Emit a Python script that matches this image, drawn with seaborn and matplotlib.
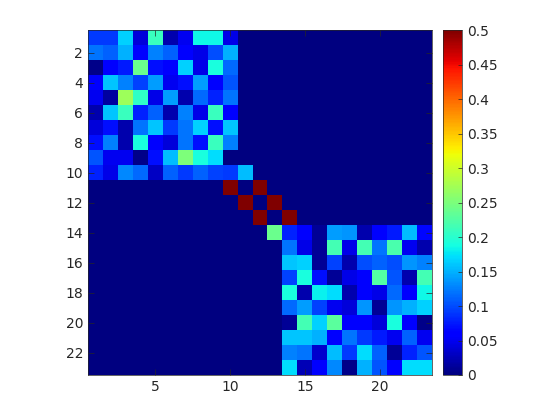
import matplotlib
matplotlib.use("Agg")
import matplotlib.pyplot as plt
import seaborn as sns
import numpy as np

# top-left block, rows 1-10 x cols 1-11
block_a = [
    [0.09, 0.09, 0.165, 0.04, 0.21, 0.02, 0.05, 0.185, 0.185, 0.045, 0.0],
    [0.12, 0.11, 0.15, 0.0625, 0.125, 0.11, 0.06, 0.045, 0.10, 0.15, 0.0],
    [0.005, 0.055, 0.075, 0.24, 0.07, 0.06, 0.165, 0.045, 0.19, 0.115, 0.0],
    [0.055, 0.16, 0.125, 0.095, 0.14, 0.05, 0.07, 0.14, 0.062, 0.105, 0.0],
    [0.05, 0.015, 0.27, 0.205, 0.045, 0.14, 0.02, 0.115, 0.08, 0.12, 0.0],
    [0.02, 0.16, 0.21, 0.08, 0.11, 0.02, 0.125, 0.045, 0.21, 0.06, 0.0],
    [0.04, 0.07, 0.02, 0.12, 0.16, 0.09, 0.12, 0.165, 0.07, 0.16, 0.0],
    [0.07, 0.125, 0.02, 0.19, 0.062, 0.04, 0.12, 0.07, 0.21, 0.125, 0.0],
    [0.105, 0.05, 0.05, 0.005, 0.07, 0.155, 0.25, 0.19, 0.17, 0.0, 0.0],
    [0.08, 0.045, 0.13, 0.115, 0.03, 0.11, 0.09, 0.11, 0.095, 0.09, 0.155],
]

# middle band, rows 11-14 x cols 10-15
block_mid = [
    [0.5, 0.0, 0.5, 0.0, 0.0, 0.0],
    [0.0, 0.5, 0.0, 0.5, 0.0, 0.0],
    [0.0, 0.0, 0.5, 0.0, 0.5, 0.0],
    [0.0, 0.0, 0.0, 0.24, 0.08, 0.055],
]

# bottom-right block, rows 14-23 x cols 16-23 (row 14) and 14-23 (rows 15-23)
row14_tail = [0.01, 0.14, 0.135, 0.02, 0.062, 0.075, 0.155, 0.065]
block_b = [
    [0.12, 0.045, 0.01, 0.215, 0.045, 0.215, 0.12, 0.22, 0.05, 0.02],
    [0.16, 0.165, 0.01, 0.095, 0.02, 0.10, 0.11, 0.10, 0.135, 0.125],
    [0.095, 0.19, 0.07, 0.01, 0.045, 0.06, 0.225, 0.105, 0.02, 0.215],
    [0.19, 0.02, 0.18, 0.17, 0.02, 0.06, 0.045, 0.115, 0.06, 0.185],
    [0.115, 0.14, 0.095, 0.05, 0.04, 0.135, 0.01, 0.135, 0.15, 0.165],
    [0.01, 0.215, 0.165, 0.23, 0.062, 0.06, 0.04, 0.19, 0.06, 0.005],
    [0.16, 0.16, 0.15, 0.06, 0.12, 0.09, 0.075, 0.05, 0.11, 0.05],
    [0.125, 0.12, 0.035, 0.155, 0.09, 0.17, 0.11, 0.01, 0.08, 0.105],
    [0.17, 0.025, 0.055, 0.13, 0.005, 0.15, 0.105, 0.062, 0.17, 0.17],
]

n = 23
mat = np.zeros((n, n))
mat[0:10, 0:11] = block_a
mat[10:14, 9:15] = block_mid
mat[13, 15:23] = row14_tail
mat[14:23, 13:23] = block_b

fig = plt.figure(figsize=(5.6, 4.2), dpi=100)
ax = fig.add_axes([88 / 560, 1 - 375 / 420, 344 / 560, 345 / 420])
cax = fig.add_axes([443 / 560, 1 - 375 / 420, 19 / 560, 345 / 420])

sns.heatmap(mat, ax=ax, cbar_ax=cax, cmap="jet", vmin=0, vmax=0.5,
            square=False, xticklabels=False, yticklabels=False)

tick_col = "#262626"
ax.set_xticks([4.5, 9.5, 14.5, 19.5])
ax.set_xticklabels(["5", "10", "15", "20"])
ax.set_yticks(np.arange(1.5, 22, 2))
ax.set_yticklabels([str(v) for v in range(2, 23, 2)], rotation=0)
ax.tick_params(direction="in", top=True, right=True, length=4, width=0.5,
               colors=tick_col, labelsize=10, labelcolor=tick_col)
for s in ax.spines.values():
    s.set_visible(True)
    s.set_linewidth(0.5)
    s.set_color(tick_col)

cb = ax.collections[0].colorbar
cb.outline.set_linewidth(0.5)
cb.outline.set_edgecolor(tick_col)
cticks = np.round(np.arange(0, 0.51, 0.05), 2)
cb.set_ticks(cticks)
cb.set_ticklabels(["%g" % v for v in cticks])
cax.tick_params(direction="in", length=3, width=0.5, colors=tick_col,
                labelsize=10, labelcolor=tick_col)

fig.savefig("out.png", dpi=100)
